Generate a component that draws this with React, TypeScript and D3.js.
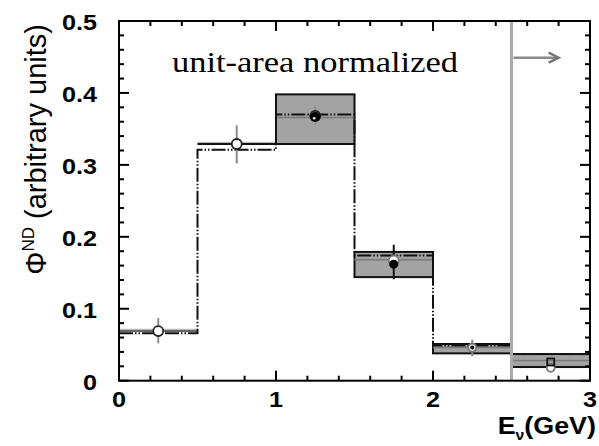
import React from "react";
import * as d3 from "d3";

// ---- data ----
const binEdges = [0, 0.5, 1, 1.5, 2, 2.5, 3];
const dashHist = [0.066, 0.321, 0.37, 0.174, 0.049, 0.037];
const solidHist = [0.069, 0.329]; // first two bins, drawn as solid lines
const bandBin = [2, 3, 4, 5];
const bandLo = [0.329, 0.144, 0.038, 0.019];
const bandHi = [0.398, 0.179, 0.051, 0.037];
const bandInner = [0.366, 0.168, 0.046, 0.028];
const pointX = [0.25, 0.75, 1.25, 1.75, 2.25, 2.75];
const openY = [0.069, 0.329, 0.368, 0.167, 0.046, 0.018];
const errLo = [0.052, 0.302, 0.356, 0.141, 0.034, 0.014];
const errHi = [0.087, 0.355, 0.381, 0.189, 0.057, 0.022];
const errDark = [false, false, false, true, false, false];
const filledX = [1.25, 1.75, 2.25];
const filledY = [0.367, 0.162, 0.046];
const filledR = [5, 4.5, 2];
const squareX = [2.75];
const squareY = [0.026];
const xTickLabels = [0, 1, 2, 3];
const yTickLabels = [0, 0.1, 0.2, 0.3, 0.4, 0.5];
const cutE = 2.5;
const arrowEnd = 2.8;
const arrowY = 0.449;

const W = 599;
const H = 446;

export default function App() {
  const x = d3.scaleLinear().domain([0, 3]).range([119, 590]);
  const y = d3.scaleLinear().domain([0, 0.5]).range([380.7, 21]);
  const [x0, x1] = x.range();
  const [yb, yt] = y.range();

  // dash-dot step path
  const stepPath = d3.path();
  dashHist.forEach((v, i) => {
    if (i === 0) stepPath.moveTo(x(binEdges[0]), y(v));
    else stepPath.lineTo(x(binEdges[i]), y(v));
    stepPath.lineTo(x(binEdges[i + 1]), y(v));
  });

  const xMinor = d3.range(0, 16).map((i) => i / 5);
  const yMinor = d3.range(0, 26).map((i) => i / 50);
  const bold = "'Liberation Sans', Arial, sans-serif";

  return (
    <svg
      width={W}
      height={H}
      style={{ position: "absolute", left: 0, top: 0, background: "#fff" }}
    >
      <rect x={0} y={0} width={W} height={H} fill="#fff" />

      {/* grey bands */}
      {bandBin.map((b, i) => (
        <g key={"band" + i}>
          <rect
            x={x(binEdges[b])}
            y={y(bandHi[i])}
            width={x(binEdges[b + 1]) - x(binEdges[b])}
            height={y(bandLo[i]) - y(bandHi[i])}
            fill="#a3a3a3"
            stroke="#111"
            strokeWidth={2}
          />
          <line
            x1={x(binEdges[b])}
            x2={x(binEdges[b + 1])}
            y1={y(bandInner[i])}
            y2={y(bandInner[i])}
            stroke="#7a7a7a"
            strokeWidth={1.5}
          />
        </g>
      ))}

      {/* solid lines in first bins */}
      {solidHist.map((v, i) => (
        <g key={"solid" + i}>
          <line
            x1={x(binEdges[i])}
            x2={x(binEdges[i + 1])}
            y1={y(v) - 1.5}
            y2={y(v) - 1.5}
            stroke="#bbb"
            strokeWidth={1.5}
          />
          <line
            x1={x(binEdges[i])}
            x2={x(binEdges[i + 1])}
            y1={y(v)}
            y2={y(v)}
            stroke={i === 0 ? "#666" : "#111"}
            strokeWidth={2}
          />
        </g>
      ))}

      {/* dash-dot histogram */}
      <path
        d={stepPath.toString()}
        fill="none"
        stroke="#111"
        strokeWidth={2}
        strokeDasharray="14 2 1.5 2 1.5 2"
      />

      {/* cut line and arrow */}
      <line x1={x(cutE)} x2={x(cutE)} y1={yt} y2={yb} stroke="#aaa" strokeWidth={3} />
      <line
        x1={x(cutE) + 2}
        x2={x(arrowEnd)}
        y1={y(arrowY)}
        y2={y(arrowY)}
        stroke="#8a8a8a"
        strokeWidth={2.5}
      />
      <polyline
        points={`${x(arrowEnd) - 10},${y(arrowY) - 5} ${x(arrowEnd)},${y(arrowY)} ${x(arrowEnd) - 10},${y(arrowY) + 5}`}
        fill="none"
        stroke="#777"
        strokeWidth={2.5}
      />

      {/* error bars */}
      {pointX.map((px, i) => (
        <line
          key={"err" + i}
          x1={x(px)}
          x2={x(px)}
          y1={y(errLo[i])}
          y2={y(errHi[i])}
          stroke={errDark[i] ? "#111" : "#8a8a8a"}
          strokeWidth={2}
        />
      ))}

      {/* open circles */}
      {pointX.map((px, i) => (
        <circle
          key={"open" + i}
          cx={x(px)}
          cy={y(openY[i])}
          r={i >= 4 ? 4 : 5}
          fill="#fff"
          stroke={i >= 3 ? "#777" : "#222"}
          strokeWidth={1.8}
        />
      ))}

      {/* filled circles */}
      {filledX.map((px, i) => (
        <circle key={"fill" + i} cx={x(px)} cy={y(filledY[i])} r={filledR[i]} fill="#000" />
      ))}
      {filledX.slice(0, 1).map((px, i) => (
        <circle key={"dot" + i} cx={x(px) - 1} cy={y(filledY[i]) + 1.5} r={1.3} fill="#fff" />
      ))}

      {/* squares */}
      {squareX.map((px, i) => (
        <rect
          key={"sq" + i}
          x={x(px) - 3.5}
          y={y(squareY[i]) - 3.5}
          width={7}
          height={7}
          fill="none"
          stroke="#111"
          strokeWidth={1.8}
        />
      ))}

      {/* frame */}
      <rect x={x0} y={yt} width={x1 - x0} height={yb - yt} fill="none" stroke="#000" strokeWidth={2} />

      {/* ticks */}
      {xMinor.map((v, i) => {
        const len = i % 5 === 0 ? 10 : 5;
        return (
          <g key={"xt" + i}>
            <line x1={x(v)} x2={x(v)} y1={yb} y2={yb - len} stroke="#000" strokeWidth={2} />
            <line x1={x(v)} x2={x(v)} y1={yt} y2={yt + len} stroke="#000" strokeWidth={2} />
          </g>
        );
      })}
      {yMinor.map((v, i) => {
        const len = i % 5 === 0 ? 10 : 5;
        return (
          <g key={"yt" + i}>
            <line x1={x0} x2={x0 + len} y1={y(v)} y2={y(v)} stroke="#000" strokeWidth={2} />
            <line x1={x1} x2={x1 - len} y1={y(v)} y2={y(v)} stroke="#000" strokeWidth={2} />
          </g>
        );
      })}

      {/* tick labels */}
      {xTickLabels.map((v) => (
        <text
          key={"xl" + v}
          transform={`translate(${x(v)},407) scale(1.12,1)`}
          textAnchor="middle"
          fontFamily={bold}
          fontWeight="bold"
          fontSize={22.5}
          fill="#000"
        >
          {v}
        </text>
      ))}
      {yTickLabels.map((v) => (
        <text
          key={"yl" + v}
          transform={`translate(97,${y(v) + 9}) scale(1.12,1)`}
          textAnchor="end"
          fontFamily={bold}
          fontWeight="bold"
          fontSize={22.5}
          fill="#000"
        >
          {v === 0 ? "0" : v.toFixed(1)}
        </text>
      ))}

      {/* axis titles */}
      <text
        transform={`translate(596,434) scale(1.12,1)`}
        textAnchor="end"
        fontFamily={bold}
        fontWeight="bold"
        fontSize={24}
        fill="#000"
      >
        E
        <tspan fontSize={14} dy={6}>ν</tspan>
        <tspan fontSize={24} dy={-6}>(GeV)</tspan>
      </text>
      <text
        transform={`translate(46,24) rotate(-90)`}
        textAnchor="end"
        fontFamily={bold}
        fontSize={29}
        fill="#000"
      >
        Φ
        <tspan fontSize={17} dy={-12}>ND</tspan>
        <tspan fontSize={29} dy={12}> (arbitrary units)</tspan>
      </text>

      {/* annotation */}
      <text
        x={172}
        y={72}
        fontFamily="'Liberation Serif', 'Times New Roman', serif"
        fontSize={30}
        textLength={286}
        lengthAdjust="spacingAndGlyphs"
        fill="#000"
      >
        unit-area normalized
      </text>
    </svg>
  );
}
